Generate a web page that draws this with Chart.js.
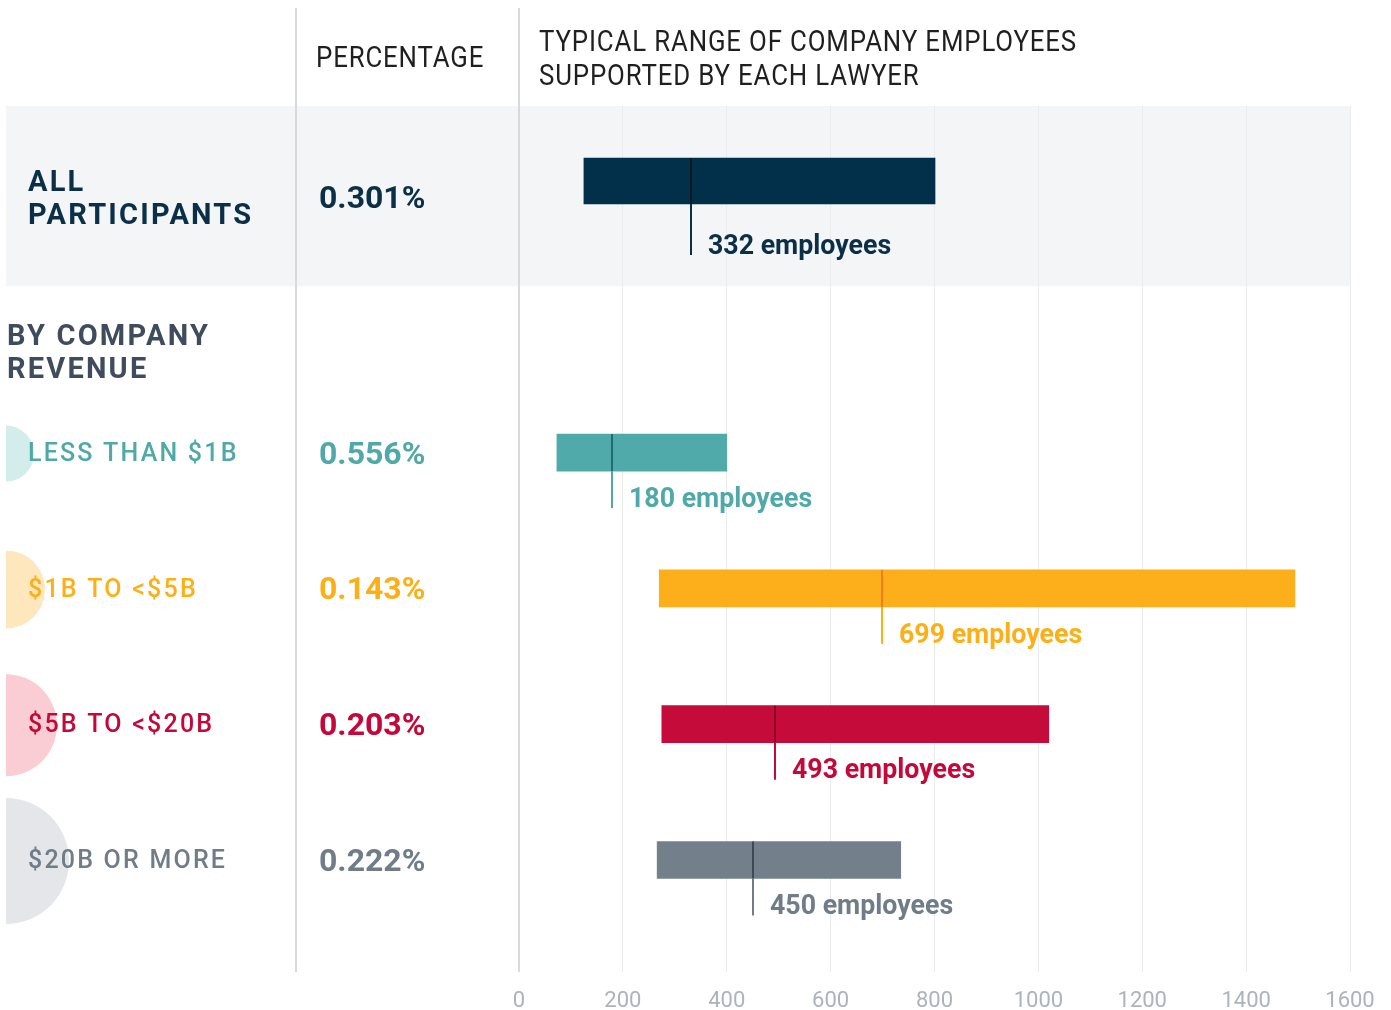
<!DOCTYPE html>
<html>
<head>
<meta charset="utf-8">
<script src="https://cdn.jsdelivr.net/npm/chart.js@4.4.1/dist/chart.umd.min.js"></script>
<style>
  html, body { margin: 0; padding: 0; background: #ffffff; }
  #wrap { width: 1391px; height: 1010px; position: relative; }
</style>
</head>
<body>
<div id="wrap"><canvas id="c" width="1391" height="1010"></canvas></div>
<script>
// ---------------- DATA ----------------
const categories  = ['ALL\nPARTICIPANTS', 'LESS THAN $1B', '$1B TO <$5B', '$5B TO <$20B', '$20B OR MORE'];
const percentages = ['0.301%', '0.556%', '0.143%', '0.203%', '0.222%'];
const rangeLow    = [125, 73, 270, 275, 266];
const rangeHigh   = [801, 400, 1494, 1020, 735];
const medians     = [332, 180, 699, 493, 450];
const rowSlot     = [0, 2, 3, 4, 5];          // row 1 holds the section heading
const sectionHeading = 'BY COMPANY\nREVENUE';
const colHeadPct  = 'PERCENTAGE';
const colHeadRange = 'TYPICAL RANGE OF COMPANY EMPLOYEES\nSUPPORTED BY EACH LAWYER';
const xTicks      = [0, 200, 400, 600, 800, 1000, 1200, 1400, 1600];

// ---------------- STYLE ----------------
const barColor   = ['#022F49', '#50AAAA', '#FCAF1A', '#C40B3A', '#737F8B'];
const innerColor = ['#0A1822', '#1E6E6D', '#F37D1C', '#8C0424', '#3E4A57'];
const textColor  = ['#0B2F47', '#4FA9A8', '#FDAF17', '#C4093A', '#707C88'];
const dotColor   = [null, '#D3ECEC', '#FEE7BD', '#F9CDD3', '#E4E6EA'];
const dotRadius  = [0, 28, 39, 51, 63];

function drawText(ctx, text, x, y, o) {
  ctx.save();
  ctx.font = o.font;
  ctx.fillStyle = o.color;
  ctx.textBaseline = 'middle';
  ctx.textAlign = 'left';
  ctx.letterSpacing = (o.spacing || 0) + 'px';
  const sx = o.scaleX || 1;
  ctx.translate(x, y);
  ctx.scale(sx, 1);
  ctx.fillText(text, 0, 0);
  ctx.restore();
}

const decor = {
  id: 'decor',
  beforeDraw(chart) {
    const ctx = chart.ctx, ca = chart.chartArea;
    const xs = chart.scales.x, ys = chart.scales.y;
    ctx.save();
    ctx.fillStyle = '#ffffff';
    ctx.fillRect(0, 0, chart.width, chart.height);
    // highlighted band for the first row
    const bandBottom = ys.getPixelForValue(0.775);
    ctx.fillStyle = '#F3F5F7';
    ctx.fillRect(6, ca.top, xs.right + 1 - 6, bandBottom - ca.top);
    // half circles at the left edge
    ctx.beginPath();
    ctx.rect(6, 0, 200, chart.height);
    ctx.clip();
    for (let i = 1; i < categories.length; i++) {
      const cy = ys.getPixelForValue(rowSlot[i]);
      ctx.beginPath();
      ctx.arc(6, cy + 1, dotRadius[i], 0, Math.PI * 2);
      ctx.fillStyle = dotColor[i];
      ctx.fill();
    }
    ctx.restore();
  },
  afterDatasetsDraw(chart) {
    const ctx = chart.ctx, ca = chart.chartArea;
    const xs = chart.scales.x, ys = chart.scales.y;
    ctx.save();
    // column dividers
    ctx.fillStyle = '#D6DADF';
    ctx.fillRect(295, 8, 2, ca.bottom - 8);
    ctx.fillRect(Math.round(xs.getPixelForValue(0)) - 1, 8, 2, ca.bottom - 8);

    // medians
    for (let i = 0; i < categories.length; i++) {
      const px = Math.round(xs.getPixelForValue(medians[i]));
      const cy = ys.getPixelForValue(rowSlot[i]);
      const half = (i === 0 ? 46 : 37) / 2;
      const top = cy - half, bot = cy + half;
      const tail = i === 0 ? 51 : 37;
      ctx.fillStyle = innerColor[i];
      ctx.fillRect(px - 1, top, 2, bot - top);
      ctx.fillStyle = textColor[i];
      ctx.fillRect(px - 1, bot, 2, tail);
      drawText(ctx, medians[i] + ' employees', px + 17, bot + tail - 8,
        { font: 'bold 27px Roboto', color: textColor[i], scaleX: 0.99 });
    }

    // column headers
    const hf = { font: '30px Roboto', color: '#1F1F1F', scaleX: 0.86, spacing: 1 };
    drawText(ctx, colHeadPct, 316, 59, hf);
    const hl = colHeadRange.split('\n');
    drawText(ctx, hl[0], 539, 43, hf);
    drawText(ctx, hl[1], 539, 77, hf);

    // first row texts (centered in band)
    const bandMid = (ca.top + ys.getPixelForValue(0.775)) / 2;
    const al = categories[0].split('\n');
    const bf = { font: 'bold 29px Roboto', color: textColor[0], spacing: 2.2 };
    drawText(ctx, al[0], 28, bandMid - 12, bf);
    drawText(ctx, al[1], 28, bandMid + 21, bf);
    drawText(ctx, percentages[0], 319, bandMid + 4, { font: 'bold 32px Roboto', color: textColor[0] });

    // section heading
    const sh = sectionHeading.split('\n');
    const shY = ys.getPixelForValue(1.26);
    const sf = { font: 'bold 29px Roboto', color: '#3F4C5E', spacing: 2.2 };
    drawText(ctx, sh[0], 7, shY - 14, sf);
    drawText(ctx, sh[1], 7, shY + 19, sf);

    // group rows
    for (let i = 1; i < categories.length; i++) {
      const cy = ys.getPixelForValue(rowSlot[i]);
      drawText(ctx, categories[i], 28, cy + 2, { font: '500 25px Roboto', color: textColor[i], spacing: 2.2 });
      drawText(ctx, percentages[i], 319, cy + 3, { font: 'bold 32px Roboto', color: textColor[i] });
    }
    ctx.restore();
  }
};

const mk = (idxs) => idxs.map(i => ({ x: [rangeLow[i], rangeHigh[i]], y: rowSlot[i] }));

new Chart(document.getElementById('c'), {
  type: 'bar',
  data: {
    datasets: [
      { label: 'All participants', data: mk([0]), backgroundColor: [barColor[0]],
        barThickness: 46, grouped: false, borderWidth: 0 },
      { label: 'By company revenue', data: mk([1, 2, 3, 4]), backgroundColor: barColor.slice(1),
        barThickness: 37, grouped: false, borderWidth: 0 }
    ]
  },
  options: {
    indexAxis: 'y',
    responsive: false,
    animation: false,
    devicePixelRatio: 1,
    layout: { padding: { left: 519, right: 41, top: 106, bottom: 0 } },
    plugins: { legend: { display: false }, tooltip: { enabled: false } },
    scales: {
      y: { type: 'linear', display: false, reverse: true, offset: false, min: -0.5523, max: 5.8247 },
      x: {
        type: 'linear', min: 0, max: 1600,
        afterBuildTicks: (s) => { s.ticks = xTicks.map(v => ({ value: v })); },
        afterFit: (s) => { s.height = 38; },
        border: { display: false },
        grid: { color: '#EAECEF', lineWidth: 1, drawTicks: false },
        ticks: { color: '#ADB3BA', padding: 16, font: { family: 'Roboto', size: 22 },
                 callback: (v) => String(v) }
      }
    }
  },
  plugins: [decor]
});
</script>
</body>
</html>
